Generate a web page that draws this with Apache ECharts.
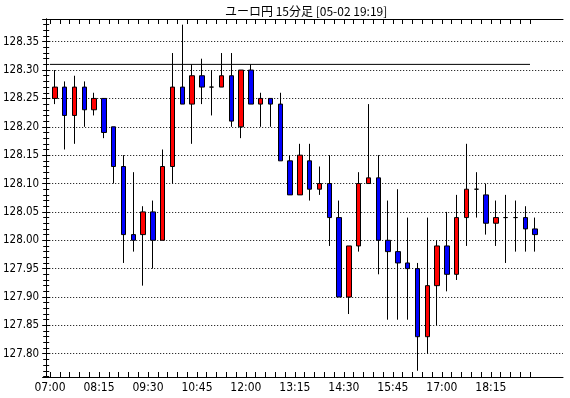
<!DOCTYPE html>
<html><head><meta charset="utf-8">
<script src="https://cdn.jsdelivr.net/npm/echarts@6/dist/echarts.min.js"></script>
<style>html,body{margin:0;padding:0;background:#fff}#c{width:570px;height:398px}</style>
</head><body><div id="c"></div>
<script>
const categories = ['07:00','07:15','07:30','07:45','08:00','08:15','08:30','08:45','09:00','09:15',
  '09:30','09:45','10:00','10:15','10:30','10:45','11:00','11:15','11:30','11:45',
  '12:00','12:15','12:30','12:45','13:00','13:15','13:30','13:45','14:00','14:15',
  '14:30','14:45','15:00','15:15','15:30','15:45','16:00','16:15','16:30','16:45',
  '17:00','17:15','17:30','17:45','18:00','18:15','18:30','18:45','19:00','19:15'];
const opens = [128.25,128.27,128.22,128.27,128.23,128.25,128.20,128.13,128.01,128.01,
  128.05,128.00,128.13,128.27,128.24,128.29,128.27,128.27,128.29,128.20,
  128.30,128.24,128.25,128.24,128.14,128.08,128.14,128.09,128.10,128.04,
  127.90,127.99,128.10,128.11,128.00,127.98,127.96,127.95,127.83,127.92,
  127.99,127.94,128.04,128.09,128.08,128.03,128.04,128.04,128.04,128.02];
const closes = [128.27,128.22,128.27,128.23,128.25,128.19,128.13,128.01,128.00,128.05,
  128.00,128.13,128.27,128.24,128.29,128.27,128.27,128.29,128.21,128.30,
  128.24,128.25,128.24,128.14,128.08,128.15,128.09,128.10,128.04,127.90,
  127.99,128.10,128.11,128.00,127.98,127.96,127.95,127.83,127.92,127.99,
  127.94,128.04,128.09,128.09,128.03,128.04,128.04,128.04,128.02,128.01];
const lows = [128.24,128.16,128.17,128.20,128.22,128.18,128.10,127.96,127.98,127.92,
  127.95,128.00,128.10,128.24,128.17,128.24,128.22,128.27,128.20,128.18,
  128.24,128.20,128.20,128.14,128.08,128.08,128.07,128.08,127.99,127.90,
  127.87,127.98,128.10,127.94,127.86,127.86,127.86,127.77,127.80,127.85,
  127.91,127.93,127.99,128.04,128.01,127.99,127.96,127.98,127.98,127.98];
const highs = [128.30,128.28,128.29,128.28,128.26,128.25,128.20,128.15,128.12,128.06,
  128.07,128.16,128.33,128.38,128.31,128.32,128.30,128.33,128.33,128.30,
  128.31,128.26,128.25,128.26,128.15,128.17,128.17,128.13,128.15,128.07,
  127.99,128.12,128.24,128.15,128.07,128.09,128.04,127.96,128.04,128.00,
  128.05,128.08,128.17,128.12,128.10,128.07,128.08,128.07,128.06,128.04];
const tickLabels = ['07:00','08:15','09:30','10:45','12:00','13:15','14:30','15:45','17:00','18:15'];
const refLevel = 128.31;
const titleText = 'ユーロ円 15分足 [05-02 19:19]';

const yMin = 127.759, yMax = 128.39;
const FONT = "'Liberation Sans Narrow', 'DejaVu Sans Condensed', 'Liberation Sans', sans-serif";
const candleData = opens.map((o, i) => [o, closes[i], lows[i], highs[i]]);

const gTop = 19, gBottom = 21;
const hiddenY = (gi) => ({gridIndex: gi, type: 'value', min: yMin, max: yMax, show: false, splitLine: {show: false}});

const chart = echarts.init(document.getElementById('c'), null, {renderer: 'canvas'});
chart.setOption({
  animation: false,
  backgroundColor: '#fff',
  title: {
    text: titleText, left: 220, top: 0,
    textStyle: {fontFamily: "'Noto Sans CJK JP', sans-serif", fontSize: 12, fontWeight: 'normal', color: '#000'}
  },
  grid: [
    {left: 45, right: 7, top: gTop, bottom: gBottom},
    {left: 50, width: 480, top: gTop, bottom: gBottom},
    {left: 50, width: 490, top: gTop, bottom: gBottom}
  ],
  xAxis: [
    {gridIndex: 0, type: 'value', min: 0, max: 1, position: 'bottom',
     axisLine: {show: true, onZero: false, lineStyle: {color: '#000', width: 1}},
     axisTick: {show: false}, axisLabel: {show: false}, splitLine: {show: false}},
    {gridIndex: 0, type: 'value', min: 0, max: 1, position: 'top',
     axisLine: {show: true, onZero: false, lineStyle: {color: '#000', width: 1}},
     axisTick: {show: false}, axisLabel: {show: false}, splitLine: {show: false}},
    {gridIndex: 1, type: 'category', data: categories, boundaryGap: false, position: 'bottom',
     axisLine: {show: false},
     axisTick: {show: true, inside: true, length: 5, interval: 0, lineStyle: {color: '#000'}},
     axisLabel: {show: true, interval: (i, v) => tickLabels.includes(v), margin: 5,
       fontFamily: FONT, fontSize: 12, color: '#000'},
     splitLine: {show: false}},
    {gridIndex: 1, type: 'category', data: categories, boundaryGap: false, position: 'top',
     axisLine: {show: false},
     axisTick: {show: true, inside: true, length: 5, interval: 0, lineStyle: {color: '#000'}},
     axisLabel: {show: false}, splitLine: {show: false}},
    {gridIndex: 2, type: 'category', data: categories, boundaryGap: true, show: false}
  ],
  yAxis: [
    {gridIndex: 0, type: 'value', min: yMin, max: yMax, position: 'left',
     splitNumber: 13, minInterval: 0.05, maxInterval: 0.05,
     axisLine: {show: true, lineStyle: {color: '#000', width: 1}},
     axisTick: {show: true, inside: true, length: 4, lineStyle: {color: '#000'}},
     minorTick: {show: true, splitNumber: 5, length: 3, lineStyle: {color: '#000'}},
     axisLabel: {show: true, margin: 7, showMinLabel: false, showMaxLabel: false,
       formatter: v => v.toFixed(2), fontFamily: FONT, fontSize: 11.5, color: '#000'},
     splitLine: {show: true, lineStyle: {color: '#000', width: 1, type: [1, 2]}}},
    {gridIndex: 0, type: 'value', min: yMin, max: yMax, position: 'right',
     splitNumber: 13, minInterval: 0.05, maxInterval: 0.05,
     axisLine: {show: true, lineStyle: {color: '#000', width: 1}},
     axisTick: {show: true, inside: true, length: 4, lineStyle: {color: '#000'}},
     minorTick: {show: true, splitNumber: 5, length: 3, lineStyle: {color: '#000'}},
     axisLabel: {show: false}, splitLine: {show: false}},
    hiddenY(1),
    hiddenY(2)
  ],
  series: [
    {type: 'line', xAxisIndex: 2, yAxisIndex: 2, symbol: 'none', silent: true,
     data: [[categories[0], refLevel], [categories[categories.length - 1], refLevel]],
     lineStyle: {color: '#000', width: 1}},
    {type: 'candlestick', xAxisIndex: 4, yAxisIndex: 3, barWidth: 5,
     data: candleData,
     itemStyle: {color: '#ff0000', color0: '#0000ff', borderColor: '#000', borderColor0: '#000',
       borderColorDoji: '#000', borderWidth: 1}}
  ]
});
</script></body></html>
